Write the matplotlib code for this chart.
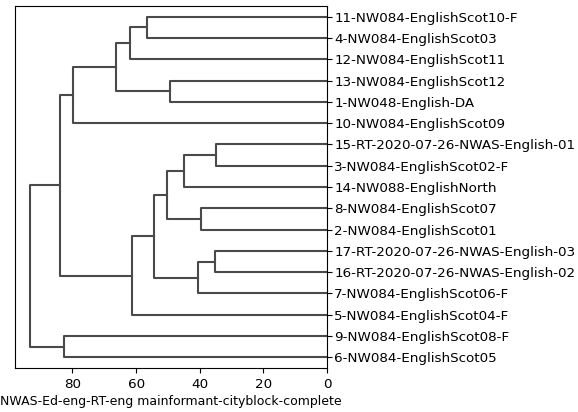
import matplotlib
matplotlib.use('Agg')
import matplotlib.pyplot as plt

# Folhas na ordem de exibição (de cima para baixo)
rotulos = ['11-NW084-EnglishScot10-F', '4-NW084-EnglishScot03', '12-NW084-EnglishScot11',
           '13-NW084-EnglishScot12', '1-NW048-English-DA', '10-NW084-EnglishScot09',
           '15-RT-2020-07-26-NWAS-English-01', '3-NW084-EnglishScot02-F', '14-NW088-EnglishNorth',
           '8-NW084-EnglishScot07', '2-NW084-EnglishScot01', '17-RT-2020-07-26-NWAS-English-03',
           '16-RT-2020-07-26-NWAS-English-02', '7-NW084-EnglishScot06-F', '5-NW084-EnglishScot04-F',
           '9-NW084-EnglishScot08-F', '6-NW084-EnglishScot05']

# Fusões no estilo linkage: (cluster a, cluster b); novos clusters recebem ids 17, 18, ...
fusao_a = [6, 11, 9, 18, 17, 3, 21, 23, 0, 24, 25, 27, 28, 15, 29, 31]
fusao_b = [7, 12, 10, 13, 8, 4, 19, 20, 1, 14, 2, 22, 5, 16, 26, 30]
alturas = [34.9, 35.1, 39.6, 40.5, 44.8, 49.2, 50.3, 54.3, 56.6, 61.4, 61.9, 66.2, 79.8, 82.8, 83.9, 93.4]

xlabel = 'NWAS-Ed-eng-RT-eng mainformant-cityblock-complete'

n = len(rotulos)
pos_y = {i: 10 * (n - 1 - i) + 5 for i in range(n)}
alt = {i: 0.0 for i in range(n)}

fig = plt.figure(figsize=(5.78, 4.12), dpi=100)
ax = fig.add_axes([15 / 578, 44 / 412, 312 / 578, 362 / 412])

cor = '#4a4a4a'
for k, (a, b, h) in enumerate(zip(fusao_a, fusao_b, alturas)):
    novo = n + k
    ax.plot([alt[a], h, h, alt[b]], [pos_y[a], pos_y[a], pos_y[b], pos_y[b]],
            color=cor, linewidth=1.5)
    pos_y[novo] = (pos_y[a] + pos_y[b]) / 2
    alt[novo] = h

ax.set_xlim(max(alturas) * 1.05, 0)
ax.set_ylim(0, 10 * n)
ax.yaxis.tick_right()
ax.set_yticks([pos_y[i] for i in range(n)])
ax.set_yticklabels(rotulos, fontsize=9.7)
ax.tick_params(axis='y', pad=1.8)
ax.set_xticks([0, 20, 40, 60, 80])
ax.tick_params(axis='x', labelsize=9.7)
ax.set_xlabel(xlabel, fontsize=9, labelpad=3)

fig.savefig('out.png', dpi=100)
